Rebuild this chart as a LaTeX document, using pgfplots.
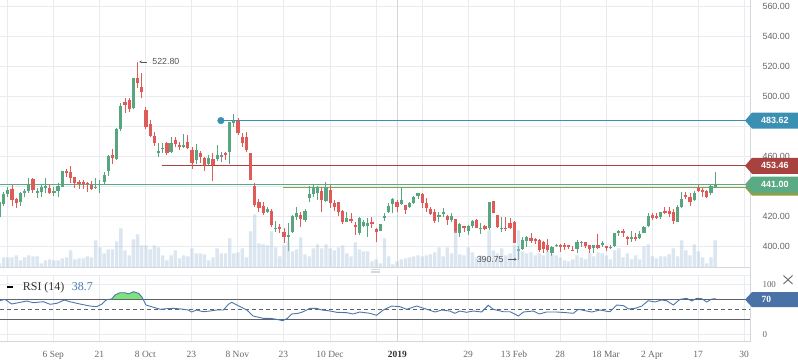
\documentclass[border=0pt]{standalone}
\usepackage{fontspec}
\setmainfont{Liberation Serif}
\newfontfamily\sansf{Liberation Sans}
\usepackage{pgfplots}
\usepackage{pgfplotstable}
\pgfplotsset{compat=1.18}
\usetikzlibrary{arrows.meta}

\definecolor{cgreen}{HTML}{57A680}
\definecolor{cred}{HTML}{E05A57}
\definecolor{cgray}{HTML}{8A8A8A}
\definecolor{gridc}{HTML}{E8ECF0}
\definecolor{gridd}{HTML}{D3D7DB}
\definecolor{bordc}{HTML}{D3D7DB}
\definecolor{volc}{HTML}{AFC8E1}
\definecolor{lvblue}{HTML}{3A8FB2}
\definecolor{lvred}{HTML}{A8423F}
\definecolor{lvgreen}{HTML}{5AAA84}
\definecolor{lvolive}{HTML}{8C9F4A}
\definecolor{rsic}{HTML}{4A76AA}
\definecolor{rsibox}{HTML}{4A72A6}
\definecolor{rsifill}{HTML}{80E27E}
\definecolor{lvlc}{HTML}{5F6368}
\definecolor{txtc}{HTML}{666666}
\definecolor{txtd}{HTML}{333333}
\definecolor{annc}{HTML}{555555}

\pgfplotstableread{
i o h l c k v
0 419.13 430.67 418.67 429.53 1 4
1 428.00 436.00 426.67 434.67 1 10
2 434.67 439.53 432.87 437.33 1 10
3 438.00 440.67 426.87 430.67 -1 10
4 431.13 432.00 425.53 428.87 -1 12
5 429.53 436.00 426.67 435.13 1 7
6 435.53 438.20 432.87 436.87 1 10
7 436.67 445.33 435.53 441.13 1 12
8 444.67 445.33 435.53 437.33 -1 11
9 435.53 438.87 431.80 436.67 1 11
10 436.20 440.67 432.87 439.53 1 4
11 439.30 445.33 435.13 439.70 1 7
12 438.87 440.67 434.67 435.13 -1 8
13 435.53 439.13 433.33 436.67 1 7
14 436.67 442.20 432.87 440.00 1 7
15 439.53 450.30 439.30 450.00 1 9
16 449.80 451.33 445.80 449.13 -1 10
17 449.33 453.33 441.80 445.53 -1 17
18 446.00 446.20 438.87 442.20 -1 8
19 442.87 444.00 438.00 441.33 -1 9
20 442.67 444.00 438.00 441.13 -1 9
21 442.20 442.50 436.20 441.50 -1 11
22 440.67 443.33 437.33 438.00 -1 10
23 439.00 445.33 437.80 439.30 1 27
24 441.00 444.00 435.13 441.30 1 20
25 442.87 449.13 440.67 447.33 1 14
26 450.20 460.67 446.87 460.00 1 18
27 460.87 464.47 454.67 458.67 -1 18
28 458.00 478.67 457.33 478.00 1 26
29 477.80 495.13 476.87 493.33 1 39
30 496.20 498.47 488.47 494.00 -1 17
31 497.33 498.87 489.13 491.53 -1 12
32 492.20 512.20 491.33 512.00 1 28
33 512.00 522.80 505.13 508.47 -1 33
34 506.00 515.53 498.87 502.87 -1 22
35 490.67 492.87 478.00 479.53 -1 22
36 481.33 484.00 472.87 473.53 -1 18
37 473.33 476.20 466.67 468.87 -1 22
38 462.70 468.47 459.13 463.20 1 20
39 464.87 468.87 462.20 465.53 1 12
40 468.47 469.53 460.67 462.20 -1 7
41 462.87 472.47 462.20 468.47 1 12
42 470.67 472.87 466.20 468.00 -1 17
43 467.33 469.53 464.00 466.67 -1 9
44 466.67 474.47 465.13 467.33 1 12
45 469.13 474.00 464.47 465.53 -1 11
46 464.00 466.20 451.13 455.53 -1 19
47 457.33 468.00 454.47 464.00 1 14
48 462.20 463.53 455.13 459.13 -1 14
49 458.87 459.10 450.20 454.00 -1 13
50 454.67 460.67 454.00 458.87 1 7
51 458.20 461.80 443.53 454.00 -1 10
52 457.80 467.33 456.87 460.67 1 19
53 460.00 462.87 456.20 460.40 0 14
54 461.80 462.87 457.33 460.67 -1 14
55 462.87 482.87 454.67 482.47 1 29
56 482.47 488.00 479.13 482.87 1 14
57 483.53 485.33 474.00 475.53 -1 15
58 472.87 475.13 466.20 468.87 -1 19
59 472.87 476.20 462.87 464.00 -1 10
60 461.80 462.00 443.80 444.00 -1 36
61 440.00 441.80 426.20 427.33 -1 53
62 429.53 431.33 422.87 425.13 -1 24
63 426.67 429.13 420.67 421.80 -1 23
64 422.47 426.00 422.00 424.67 1 22
65 423.33 424.47 412.47 414.00 -1 36
66 411.60 416.67 409.53 411.90 1 20
67 412.20 414.67 408.87 411.80 -1 11
68 409.13 411.80 402.20 406.20 -1 22
69 406.67 415.33 397.00 407.33 1 26
70 409.53 420.67 409.00 420.00 1 16
71 419.53 425.80 417.33 421.80 1 18
72 420.67 422.87 412.87 417.80 -1 30
73 417.33 424.67 415.80 423.33 1 13
74 432.00 440.00 429.53 434.67 1 11
75 434.67 440.67 432.87 438.47 1 19
76 435.53 440.00 430.67 439.13 1 23
77 436.67 439.13 422.87 430.67 -1 19
78 430.20 442.87 429.13 439.13 1 23
79 437.33 440.67 425.13 428.87 -1 19
80 428.47 430.67 423.53 426.20 -1 17
81 429.13 429.53 420.00 422.47 -1 20
82 423.33 424.00 414.67 416.20 -1 22
83 416.20 422.87 415.80 418.47 1 14
84 417.50 421.80 415.13 417.20 -1 11
85 413.70 416.20 407.33 413.30 -1 25
86 408.47 419.13 407.33 418.47 1 18
87 413.53 417.33 412.67 415.80 1 16
88 413.33 418.47 405.80 415.53 1 16
89 415.70 419.13 411.80 415.30 -1 6
90 411.33 412.20 402.87 409.53 -1 8
91 410.20 414.67 410.00 414.47 1 4
92 419.30 421.80 416.67 419.60 1 29
93 422.87 428.87 421.80 426.67 1 11
94 427.80 431.80 422.20 431.13 1 3
95 429.53 430.67 422.87 426.20 -1 6
96 427.80 438.87 427.33 430.67 1 8
97 427.33 427.33 421.33 424.00 -1 9
98 425.80 429.33 425.33 428.47 1 10
99 428.47 433.33 428.00 432.87 1 11
100 433.33 435.53 431.13 435.13 1 12
101 434.67 435.13 425.13 428.47 -1 11
102 428.87 431.80 422.87 425.13 -1 12
103 424.67 425.80 420.67 421.33 -1 13
104 422.87 424.47 415.13 416.87 -1 15
105 419.80 422.87 416.20 420.20 1 20
106 422.00 425.13 419.53 422.40 1 11
107 420.20 420.67 414.00 417.33 -1 20
108 417.33 422.20 416.20 420.00 1 14
109 417.80 418.00 408.67 408.87 -1 36
110 408.87 415.13 405.80 414.47 1 13
111 413.00 413.33 409.53 412.70 -1 12
112 410.20 413.80 407.33 413.33 1 20
113 413.33 417.33 411.80 416.67 1 15
114 417.33 417.67 412.00 412.20 -1 10
115 411.60 415.13 408.00 411.90 1 12
116 413.33 413.67 411.00 411.33 -1 10
117 411.80 429.53 410.67 429.13 1 37
118 430.00 430.20 421.67 421.80 -1 17
119 420.67 420.67 411.80 412.47 -1 14
120 411.60 419.13 409.53 411.90 1 19
121 412.00 419.13 410.20 411.60 -1 12
122 415.13 418.87 411.13 411.80 -1 14
123 416.20 416.67 401.80 402.20 -1 22
124 396.90 400.00 390.75 397.80 1 37
125 397.80 405.80 397.33 404.00 1 16
126 403.53 406.67 399.53 405.80 1 14
127 405.13 408.47 401.80 403.53 -1 15
128 404.87 405.13 401.13 403.53 -1 12
129 404.00 404.47 396.20 397.33 -1 14
130 402.87 403.53 395.53 397.80 -1 12
131 400.67 404.47 396.20 397.33 -1 17
132 395.53 400.00 393.33 399.13 1 13
133 400.50 401.33 399.13 400.80 1 12
134 400.40 401.33 396.20 400.00 -1 10
135 400.67 401.80 397.33 399.13 -1 7
136 400.20 400.67 397.80 399.80 -1 6
137 397.50 400.00 396.67 397.10 -1 8
138 397.80 404.00 395.53 402.87 1 12
139 402.30 403.33 399.33 402.70 0 10
140 402.47 402.87 398.47 400.00 -1 8
141 400.47 400.67 395.53 397.80 -1 14
142 398.47 400.80 395.53 400.67 1 11
143 400.67 408.00 397.80 398.87 -1 15
144 400.67 403.53 399.13 402.20 1 14
145 399.70 400.00 396.67 399.40 -1 12
146 398.93 400.67 397.80 399.33 0 8
147 400.00 408.87 399.53 408.47 1 17
148 408.87 410.67 406.67 410.20 1 19
149 410.20 411.13 406.20 408.47 -1 10
150 405.80 406.67 400.67 404.47 -1 14
151 405.30 410.20 402.87 405.60 1 8
152 405.80 408.47 403.33 404.47 -1 12
153 405.13 410.00 404.67 408.00 1 8
154 408.87 413.33 408.47 412.87 1 21
155 413.33 421.80 412.87 420.00 1 23
156 420.67 422.20 417.33 418.47 -1 11
157 420.00 422.20 417.80 418.87 -1 9
158 419.53 422.90 417.80 422.87 1 11
159 423.33 425.80 421.33 422.20 -1 11
160 423.33 425.80 419.13 421.33 -1 13
161 422.87 424.47 414.47 416.67 -1 19
162 416.20 427.33 415.80 426.20 1 11
163 426.20 436.20 425.13 431.33 1 27
164 433.67 436.20 431.13 433.00 -1 17
165 432.87 435.53 426.87 429.53 -1 12
166 430.67 436.87 430.20 435.53 1 23
167 438.47 440.67 436.00 436.67 -1 16
168 436.90 438.47 432.87 436.50 -1 10
169 436.87 437.33 431.80 432.87 -1 4
170 435.13 440.67 434.00 440.00 1 10
171 439.33 449.53 438.47 440.67 1 27
}\candles

\pgfplotsset{
  wickstyle/.style n args={2}{draw=none, mark=none, forget plot,
    restrict expr to domain={\thisrow{k}}{#1},
    error bars/.cd, y dir=both, y explicit, error mark=none,
    error bar style={line width=1bp, draw=#2, solid}},
  bodystyle/.style n args={2}{draw=none, mark=none, forget plot,
    restrict expr to domain={\thisrow{k}}{#1},
    error bars/.cd, y dir=both, y explicit, error mark=none,
    error bar style={line width=3.2bp, draw=#2, solid}},
}

\begin{document}
\begin{tikzpicture}
\useasboundingbox (0bp,0bp) rectangle (798bp,-363bp);

% ---------------- main price panel ----------------
\begin{axis}[
  at={(0bp,0bp)}, anchor=north west,
  scale only axis, width=750bp, height=267.3bp,
  xmin=0.12, xmax=179.33, ymin=385.8, ymax=564,
  axis line style={draw=none}, tick style={draw=none},
  xtick={1.86,12.86,23.85,34.84,45.83,56.82,67.82,78.97,89.96,100.96,111.95,122.94,133.93,144.92,155.91,166.91,177.9},
  xticklabels={},
  extra x ticks={95.05}, extra x tick labels={},
  extra x tick style={grid=major, major grid style={color=gridd, line width=1bp}},
  ytick={400,420,440,460,480,500,520,540,560},
  yticklabels={400.00,420.00,,460.00,,500.00,520.00,540.00,560.00},
  yticklabel pos=right,
  yticklabel style={anchor=west, xshift=9bp, font=\sansf\fontsize{9}{10}\selectfont, text=txtc},
  grid=major, major grid style={color=gridc, line width=0.9bp},
  clip mode=individual,
]
% level lines
\addplot[color=lvgreen, line width=1.2bp] coordinates {(0.12,441) (179.33,441)};
\addplot[color=lvolive, line width=1.2bp] coordinates {(67.7,439) (179.33,439)};
\addplot[color=lvred, line width=1.2bp] coordinates {(38.8,453.46) (179.33,453.46)};
\addplot[color=lvblue, line width=1.2bp] coordinates {(52.9,483.62) (179.33,483.62)};
\addplot[only marks, mark=*, mark size=3.3bp, color=lvblue] coordinates {(52.9,483.62)};
% candles: wicks
\addplot[wickstyle={0.5:1.5}{cgreen}] table[x=i, y expr={(\thisrow{h}+\thisrow{l})/2}, y error expr={(\thisrow{h}-\thisrow{l})/2}] {\candles};
\addplot[wickstyle={-1.5:-0.5}{cred}] table[x=i, y expr={(\thisrow{h}+\thisrow{l})/2}, y error expr={(\thisrow{h}-\thisrow{l})/2}] {\candles};
\addplot[wickstyle={-0.5:0.5}{cgray}] table[x=i, y expr={(\thisrow{h}+\thisrow{l})/2}, y error expr={(\thisrow{h}-\thisrow{l})/2}] {\candles};
% candles: bodies
\addplot[bodystyle={0.5:1.5}{cgreen}] table[x=i, y expr={(\thisrow{o}+\thisrow{c})/2}, y error expr={max(abs(\thisrow{o}-\thisrow{c})/2,0.35)}] {\candles};
\addplot[bodystyle={-1.5:-0.5}{cred}] table[x=i, y expr={(\thisrow{o}+\thisrow{c})/2}, y error expr={max(abs(\thisrow{o}-\thisrow{c})/2,0.35)}] {\candles};
\addplot[bodystyle={-0.5:0.5}{cgray}] table[x=i, y expr={(\thisrow{o}+\thisrow{c})/2}, y error expr={max(abs(\thisrow{o}-\thisrow{c})/2,0.35)}] {\candles};
% max annotation
\draw[-{Stealth[length=2.6bp,width=2.6bp]}, color=annc, line width=0.6bp] (axis cs:35.3,522.8) -- (axis cs:33.4,522.8);
\node[anchor=west, inner sep=0pt, font=\sansf\fontsize{8.8}{10}\selectfont, text=annc] at (axis cs:36.5,522.8) {522.80};
\end{axis}

% ---------------- volume overlay ----------------
\begin{axis}[
  at={(0bp,0bp)}, anchor=north west,
  scale only axis, width=750bp, height=267.3bp,
  xmin=0.12, xmax=179.33, ymin=0, ymax=267.3,
  hide axis, clip mode=individual,
]
\addplot[ybar, bar width=0.8, fill=volc, fill opacity=0.45, draw=none] table[x=i, y=v] {\candles};
\node[anchor=west, inner sep=0pt, font=\sansf\fontsize{8.8}{10}\selectfont, text=annc] at (axis cs:114.0,8) {390.75};
\draw[-{Stealth[length=2.6bp,width=2.6bp]}, color=annc, line width=0.6bp] (axis cs:121.5,8) -- (axis cs:123.6,8);
\end{axis}

% ---------------- RSI panel ----------------
\begin{axis}[
  at={(0bp,-275bp)}, anchor=north west,
  scale only axis, width=750bp, height=66.7bp,
  xmin=0.12, xmax=179.33, ymin=-14.8, ymax=118.6,
  axis line style={draw=none}, tick style={draw=none},
  xtick={1.86,12.86,23.85,34.84,45.83,56.82,67.82,78.97,89.96,100.96,111.95,122.94,133.93,144.92,155.91,166.91,177.9},
  xticklabels={,6 Sep,21,8 Oct,23,8 Nov,23,10 Dec,,,29,13 Feb,28,18 Mar,2 Apr,17,30},
  xticklabel style={anchor=base, yshift=-15.6bp, font=\fontsize{9.5}{11}\selectfont, text=txtc},
  extra x ticks={95.05}, extra x tick labels={\textbf{2019}},
  extra x tick style={grid=major, major grid style={color=gridd, line width=1bp},
     xticklabel style={text=txtd}},
  ytick={0,100}, yticklabels={0,100},
  yticklabel pos=right,
  yticklabel style={anchor=west, xshift=9bp, font=\fontsize{9}{10}\selectfont, text=txtc},
  grid=major, major grid style={color=gridc, line width=0.9bp},
  clip mode=individual,
]
\addplot[fill=rsifill, draw=none] coordinates {(26.5,70)(26.8,70.5)(27.6,78.6)(28.8,83.2)(30,83.2)(30.8,80.6)(32,85.2)(33.2,82)(34,75.2)(34.31,70)} -- cycle;
\addplot[color=lvlc, line width=1bp] coordinates {(0.12,70) (179.33,70)};
\addplot[color=lvlc, line width=1bp] coordinates {(0.12,30) (179.33,30)};
\addplot[color=lvlc, line width=0.9bp, dash pattern=on 4bp off 3bp] coordinates {(0.12,50) (179.33,50)};
\addplot[color=rsic, line width=0.9bp] coordinates {
(0.1,67.2)(1.3,70)(2.9,60.6)(4.5,63.2)(6.5,66.6)(8.1,63.2)(10.5,65.2)(12.1,60)(13.7,62)(15.5,68.6)(16.8,65.2)(19.2,60.6)(21.6,56.6)(23.2,55.2)(24.4,60)(25.6,69.5)(26.8,70.5)(27.6,78.6)(28.8,83.2)(30,83.2)(30.8,80.6)(32,85.2)(33.2,82)(34,75.2)(35,58.6)(36.8,54)(38.4,50)(40,51.2)(41.5,52)(43.5,50.6)(45.1,48.6)(45.9,44.6)(47.1,48.6)(48.7,45.2)(50.3,46.6)(51.9,48.6)(53.5,48.6)(54.7,60)(55.5,64)(56.7,58.6)(59.1,48.6)(60.6,36.6)(63,32)(64.6,32)(66.2,30)(67.7,27.2)(68.8,32)(69.8,40.6)(71.4,42)(72.6,45.2)(74.2,52)(75.8,52)(77,48.6)(78.6,47.2)(80.6,44)(83,43.2)(84.5,40.6)(86.1,44.6)(88.5,42)(90.1,38)(91.7,48.6)(93.7,56.6)(95.7,55.2)(97.3,50)(99.7,56.6)(102.1,50)(104.1,44.6)(105.7,48.6)(107.6,46.6)(108.8,42)(110,46.6)(111.6,44)(113.2,46.6)(115.2,44.6)(116.8,58)(118,50)(120.4,45.2)(122,45.2)(124,36.6)(125.2,44.6)(127.6,46.6)(129,40.6)(130.7,44.6)(133.1,44.6)(135.5,43.2)(137.1,42)(138.3,50)(140.3,46.6)(141.5,44.6)(143.5,48.6)(144.7,46.6)(145.9,45.2)(147.5,58.6)(149.1,57.2)(150.3,50.6)(151.9,52)(153.5,56.6)(155,67.2)(156.6,64.6)(158.2,68.6)(159.4,67.2)(161,58.6)(162.6,70)(164.2,72)(165.4,66.6)(166.6,72)(167.8,71.2)(169,64.6)(170.2,70.6)(171.2,71.2)};
\end{axis}

% ---------------- frame lines and decorations ----------------
\draw[color=bordc, line width=1bp] (750bp,0bp) -- (750bp,-341.7bp);
\draw[color=bordc, line width=1bp] (0bp,-267.3bp) -- (750bp,-267.3bp);
\draw[color=gridc, line width=1bp] (0bp,-275bp) -- (750bp,-275bp);
\draw[color=bordc, line width=1bp] (0bp,-341.7bp) -- (750bp,-341.7bp);
\draw[color=gridd, line width=0.6bp] (371bp,-269.3bp) -- (380bp,-269.3bp);
\draw[color=gridd, line width=0.6bp] (371bp,-271bp) -- (380bp,-271bp);
\draw[color=gridd, line width=0.6bp] (371bp,-272.7bp) -- (380bp,-272.7bp);
\draw[color=txtc, line width=0.9bp] (783.5bp,-275.5bp) -- (792.5bp,-284bp);
\draw[color=txtc, line width=0.9bp] (783.5bp,-284bp) -- (792.5bp,-275.5bp);

% price boxes
\begin{scope}[shift={(0bp,-120.57bp)}]
\fill[lvblue] (745bp,0bp) -- (752bp,8bp) -- (798bp,8bp) -- (798bp,-8bp) -- (752bp,-8bp) -- cycle;
\node[anchor=west, inner sep=0pt, font=\sansf\bfseries\fontsize{9}{10}\selectfont, text=white] at (761bp,0bp) {483.62};
\end{scope}
\begin{scope}[shift={(0bp,-165.81bp)}]
\fill[lvred] (745bp,0bp) -- (752bp,8bp) -- (798bp,8bp) -- (798bp,-8bp) -- (752bp,-8bp) -- cycle;
\node[anchor=west, inner sep=0pt, font=\sansf\bfseries\fontsize{9}{10}\selectfont, text=white] at (761bp,0bp) {453.46};
\end{scope}
\begin{scope}[shift={(0bp,-187.5bp)}]
\fill[lvolive] (745bp,0bp) -- (752bp,8bp) -- (798bp,8bp) -- (798bp,-8bp) -- (752bp,-8bp) -- cycle;
\end{scope}
\begin{scope}[shift={(0bp,-184.5bp)}]
\fill[lvgreen] (745bp,0bp) -- (752bp,8bp) -- (798bp,8bp) -- (798bp,-8bp) -- (752bp,-8bp) -- cycle;
\node[anchor=west, inner sep=0pt, font=\sansf\bfseries\fontsize{9}{10}\selectfont, text=white] at (761bp,0bp) {441.00};
\end{scope}
\begin{scope}[shift={(0bp,-299.6bp)}]
\fill[rsibox] (745bp,0bp) -- (752bp,7.5bp) -- (798bp,7.5bp) -- (798bp,-7.5bp) -- (752bp,-7.5bp) -- cycle;
\node[anchor=west, inner sep=0pt, font=\bfseries\fontsize{9.5}{10}\selectfont, text=white] at (761.5bp,0bp) {70};
\end{scope}

% RSI title
\fill[black] (7bp,-285.8bp) rectangle (13bp,-287.8bp);
\node[anchor=base west, inner sep=0pt, font=\fontsize{12}{14}\selectfont, text=txtd] at (22.7bp,-290.7bp) {RSI (14)};
\node[anchor=base west, inner sep=0pt, font=\fontsize{12}{14}\selectfont, text=rsic] at (71.7bp,-290.7bp) {38.7};
\end{tikzpicture}
\end{document}
